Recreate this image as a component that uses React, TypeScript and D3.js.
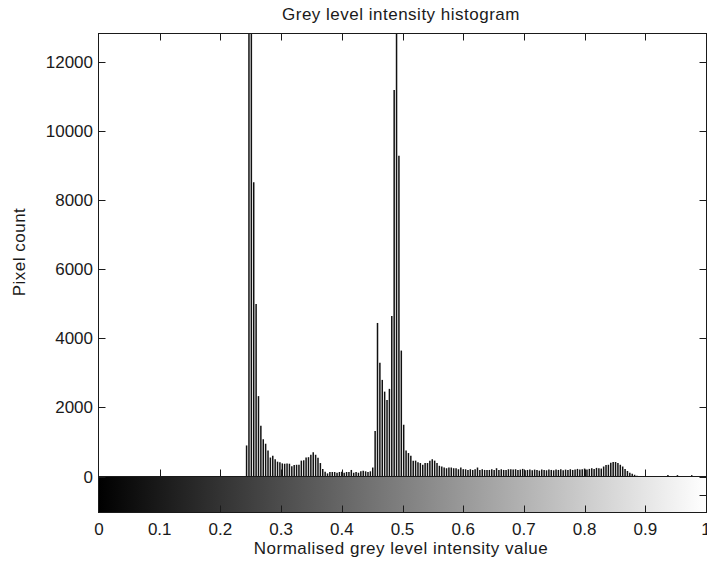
import React, { useEffect, useRef } from 'react';
import * as d3 from 'd3';

// pixel counts for the 256 grey level bins (imhist style)
const counts = [
  0, 0, 0, 0, 0, 0, 0, 0, 0, 0, 0, 0, 0, 0, 0, 0,
  0, 0, 0, 0, 0, 0, 0, 0, 0, 0, 0, 0, 0, 0, 0, 0,
  0, 0, 0, 0, 0, 0, 0, 0, 0, 0, 0, 0, 0, 0, 0, 0,
  0, 0, 0, 0, 0, 0, 0, 0, 0, 0, 0, 0, 0, 0, 900, 15000,
  13200, 8530, 5000, 2330, 1470, 1080, 950, 750, 550, 600, 500, 430, 410, 380, 370, 380,
  370, 300, 330, 340, 340, 460, 470, 550, 560, 630, 700, 630, 540, 390, 220, 140,
  90, 130, 130, 130, 110, 130, 140, 110, 130, 130, 190, 110, 130, 110, 150, 170,
  150, 130, 150, 260, 1320, 4450, 3300, 2800, 2460, 2220, 2540, 4650, 11200, 14500, 9300, 3650,
  1500, 750, 680, 600, 460, 460, 410, 390, 340, 390, 390, 460, 500, 460, 390, 310,
  290, 260, 240, 260, 260, 240, 240, 210, 260, 210, 210, 190, 210, 190, 210, 260,
  190, 210, 190, 190, 190, 210, 190, 240, 190, 210, 190, 190, 210, 210, 200, 210,
  190, 200, 220, 180, 190, 200, 180, 200, 190, 170, 200, 190, 180, 200, 190, 180,
  200, 190, 210, 180, 200, 190, 210, 190, 200, 220, 200, 210, 230, 200, 220, 240,
  220, 250, 240, 230, 290, 330, 340, 400, 420, 420, 390, 340, 290, 220, 160, 110,
  80, 50, 20, 0, 0, 0, 0, 0, 0, 0, 0, 0, 0, 0, 0, 40,
  0, 0, 0, 40, 0, 0, 0, 0, 0, 40, 0, 0, 0, 0, 0, 0,
];

const xTicks = [0, 0.1, 0.2, 0.3, 0.4, 0.5, 0.6, 0.7, 0.8, 0.9, 1];
const yTicks = [0, 2000, 4000, 6000, 8000, 10000, 12000];
const yMax = 12840;

const title = 'Grey level intensity histogram';
const xLabel = 'Normalised grey level intensity value';
const yLabel = 'Pixel count';

function App() {
  const ref = useRef<SVGSVGElement>(null);

  useEffect(() => {
    const svg = d3.select(ref.current);
    svg.selectAll('*').remove();

    const left = 98.5;
    const right = 706.5;
    const top = 33.5;
    const base = 476.5;
    const barBottom = 512.5;
    const tickLen = 7;
    const font = 'Liberation Sans, Arial, sans-serif';
    const ink = '#1a1a1a';

    const x = d3.scaleLinear().domain([0, 1]).range([99, 706]);
    const y = d3.scaleLinear().domain([0, yMax]).range([base, top]);
    const bins = counts.map((c, i) => ({ v: i / (counts.length - 1), c }));

    // grey colorbar under the histogram
    const grad = svg
      .append('defs')
      .append('linearGradient')
      .attr('id', 'greyramp')
      .attr('x1', '0%')
      .attr('x2', '100%')
      .attr('y1', '0%')
      .attr('y2', '0%');
    grad.append('stop').attr('offset', '0%').attr('stop-color', '#000');
    grad.append('stop').attr('offset', '100%').attr('stop-color', '#fff');

    svg
      .append('rect')
      .attr('x', left)
      .attr('y', base)
      .attr('width', right - left)
      .attr('height', barBottom - base)
      .attr('fill', 'url(#greyramp)');

    // stems
    svg
      .append('g')
      .selectAll('line')
      .data(bins.filter((d) => d.c > 0))
      .enter()
      .append('line')
      .attr('x1', (d) => x(d.v))
      .attr('x2', (d) => x(d.v))
      .attr('y1', base)
      .attr('y2', (d) => Math.max(y(d.c), top))
      .attr('stroke', '#111')
      .attr('stroke-width', 1.5);

    // axes box (histogram + colorbar)
    const frame = svg.append('g').attr('stroke', ink).attr('stroke-width', 1).attr('fill', 'none');
    frame.append('rect').attr('x', left).attr('y', top).attr('width', right - left).attr('height', barBottom - top);
    frame.append('line').attr('x1', left).attr('x2', right).attr('y1', base).attr('y2', base);

    // x ticks: top of plot, bottom of plot, bottom of colorbar
    xTicks.slice(1, -1).forEach((t) => {
      const px = Math.round(x(t)) + 0.5;
      frame.append('line').attr('x1', px).attr('x2', px).attr('y1', top).attr('y2', top + tickLen);
      frame.append('line').attr('x1', px).attr('x2', px).attr('y1', base).attr('y2', base - tickLen);
      frame.append('line').attr('x1', px).attr('x2', px).attr('y1', barBottom).attr('y2', barBottom - tickLen);
    });

    // y ticks on both sides
    yTicks.forEach((t) => {
      const py = Math.round(y(t)) + 0.5;
      frame.append('line').attr('x1', left).attr('x2', left + tickLen).attr('y1', py).attr('y2', py);
      frame.append('line').attr('x1', right).attr('x2', right - tickLen).attr('y1', py).attr('y2', py);
    });
    const midBar = Math.round((base + barBottom) / 2) + 0.5;
    frame.append('line').attr('x1', right).attr('x2', right - tickLen).attr('y1', midBar).attr('y2', midBar);

    const txt = svg.append('g').attr('font-family', font).attr('fill', ink).attr('font-size', 17);

    txt
      .selectAll('text.xt')
      .data(xTicks)
      .enter()
      .append('text')
      .attr('class', 'xt')
      .attr('x', (d) => x(d))
      .attr('y', 535)
      .attr('text-anchor', 'middle')
      .text((d) => d3.format('~g')(d));

    txt
      .selectAll('text.yt')
      .data(yTicks)
      .enter()
      .append('text')
      .attr('class', 'yt')
      .attr('x', 93)
      .attr('y', (d) => y(d) + 6)
      .attr('text-anchor', 'end')
      .text((d) => String(d));

    txt
      .append('text')
      .attr('x', 401)
      .attr('y', 19.5)
      .attr('text-anchor', 'middle')
      .attr('letter-spacing', 0.5)
      .text(title);

    txt
      .append('text')
      .attr('x', 401)
      .attr('y', 554)
      .attr('text-anchor', 'middle')
      .attr('letter-spacing', 0.5)
      .text(xLabel);

    txt
      .append('text')
      .attr('transform', 'translate(25,252) rotate(-90)')
      .attr('text-anchor', 'middle')
      .attr('letter-spacing', 0.5)
      .text(yLabel);
  }, []);

  return (
    <svg
      ref={ref}
      width={707}
      height={567}
      style={{ position: 'absolute', left: 0, top: 0, background: '#fff' }}
    />
  );
}

export default App;
